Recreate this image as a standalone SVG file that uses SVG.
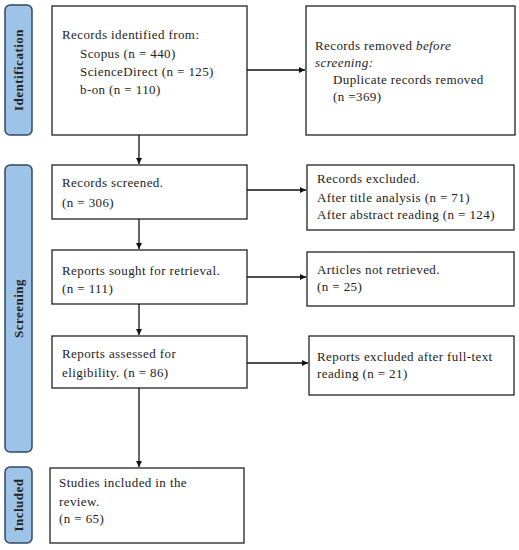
<svg xmlns="http://www.w3.org/2000/svg" width="519" height="550" viewBox="0 0 519 550">
<style>
.box{fill:#fff;stroke:#222;stroke-width:1.3}
.lab{fill:#9DC3E6;stroke:#2E4A66;stroke-width:1.5}
.t{font-family:"Liberation Serif","DejaVu Serif",serif;font-size:13px;letter-spacing:0.4px;fill:#222}
.lt{font-family:"Liberation Serif","DejaVu Serif",serif;font-size:13px;letter-spacing:0.5px;font-weight:bold;fill:#222;text-anchor:middle}
.c{stroke:#111;stroke-width:1.3;fill:none;marker-end:url(#ah)}
</style>
<defs>
<marker id="ah" viewBox="0 0 10 10" refX="10" refY="5" markerWidth="6" markerHeight="6" markerUnits="userSpaceOnUse" orient="auto">
<path d="M0,0 L10,5 L0,10 z" fill="#111"/>
</marker>
</defs>
<rect width="519" height="550" fill="#fff"/>
<g id="label-identification">
<rect class="lab" x="5" y="5" width="27" height="130" rx="5"/>
<text class="lt" transform="translate(23,70) rotate(-90)">Identification</text>
</g>
<g id="label-screening">
<rect class="lab" x="5" y="165" width="27" height="287" rx="5"/>
<text class="lt" transform="translate(23,308.5) rotate(-90)">Screening</text>
</g>
<g id="label-included">
<rect class="lab" x="5" y="467" width="27" height="76" rx="5"/>
<text class="lt" transform="translate(23,505) rotate(-90)">Included</text>
</g>
<g id="identified">
<rect class="box" x="52" y="6" width="195" height="129"/>
<text class="t" x="62" y="39">Records identified from:</text>
<text class="t" x="80" y="58">Scopus (n = 440)</text>
<text class="t" x="80" y="76">ScienceDirect (n = 125)</text>
<text class="t" x="80" y="94">b-on (n = 110)</text>
</g>
<g id="removed">
<rect class="box" x="306" y="6" width="209" height="129"/>
<text class="t" x="315" y="50">Records removed <tspan font-style="italic">before</tspan></text>
<text class="t" x="315" y="67" font-style="italic">screening:</text>
<text class="t" x="333" y="84">Duplicate records removed</text>
<text class="t" x="333" y="101">(n =369)</text>
</g>
<g id="screened">
<rect class="box" x="52" y="165" width="195" height="54"/>
<text class="t" x="62" y="187">Records screened.</text>
<text class="t" x="62" y="207">(n = 306)</text>
</g>
<g id="excluded">
<rect class="box" x="307" y="165" width="207" height="65"/>
<text class="t" x="317" y="183">Records excluded.</text>
<text class="t" x="317" y="202">After title analysis (n = 71)</text>
<text class="t" x="317" y="219">After abstract reading (n = 124)</text>
</g>
<g id="sought">
<rect class="box" x="52" y="250" width="195" height="54"/>
<text class="t" x="62" y="275">Reports sought for retrieval.</text>
<text class="t" x="62" y="293">(n = 111)</text>
</g>
<g id="notretrieved">
<rect class="box" x="307" y="252" width="207" height="54"/>
<text class="t" x="317" y="274">Articles not retrieved.</text>
<text class="t" x="317" y="291">(n = 25)</text>
</g>
<g id="assessed">
<rect class="box" x="52" y="336" width="195" height="52"/>
<text class="t" x="62" y="358">Reports assessed for</text>
<text class="t" x="62" y="377">eligibility. (n = 86)</text>
</g>
<g id="fulltext">
<rect class="box" x="309" y="336" width="205" height="59"/>
<text class="t" x="317" y="361">Reports excluded after full-text</text>
<text class="t" x="317" y="378">reading (n = 21)</text>
</g>
<g id="included">
<rect class="box" x="50" y="468" width="194" height="75"/>
<text class="t" x="59" y="487">Studies included in the</text>
<text class="t" x="59" y="506">review.</text>
<text class="t" x="59" y="523">(n = 65)</text>
</g>
<g id="connectors">
<line class="c" x1="247" y1="70" x2="305" y2="70"/>
<line class="c" x1="139" y1="135" x2="139" y2="164"/>
<line class="c" x1="247" y1="190" x2="306" y2="190"/>
<line class="c" x1="139" y1="219" x2="139" y2="249"/>
<line class="c" x1="247" y1="277" x2="306" y2="277"/>
<line class="c" x1="139" y1="304" x2="139" y2="335"/>
<line class="c" x1="247" y1="363" x2="308" y2="363"/>
<line class="c" x1="139" y1="388" x2="139" y2="467"/>
</g>
</svg>
